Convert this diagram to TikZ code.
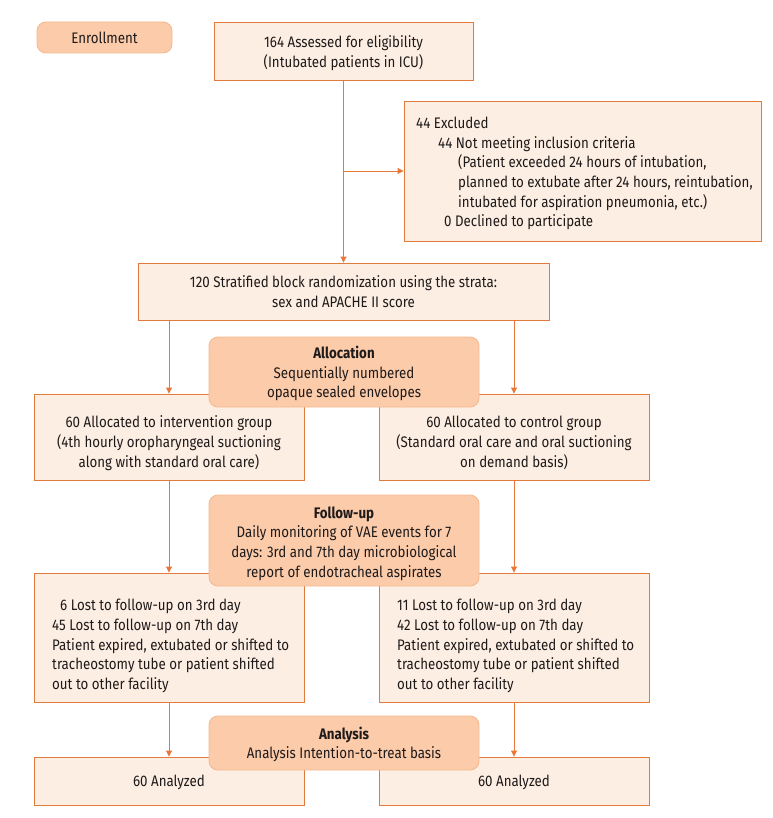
\documentclass[tikz,border=0pt]{standalone}
\usepackage{fontspec}
\setmainfont{Fira Sans}[FakeStretch=0.87]
\usetikzlibrary{arrows.meta}
\definecolor{boxfill}{HTML}{FDEEE3}
\definecolor{boxdraw}{HTML}{E07B3C}
\definecolor{rfill}{HTML}{FBCBAA}
\definecolor{rdraw}{HTML}{F7B990}
\definecolor{arr}{HTML}{E8773A}
\definecolor{txt}{HTML}{1E1A1A}
\begin{document}
\begin{tikzpicture}[x=1pt,y=-1pt,
  every node/.style={font=\fontsize{15.3}{19.7}\selectfont, text=txt},
  box/.style={draw=boxdraw, fill=boxfill, line width=0.9pt, inner sep=0pt, align=center},
  stage/.style={draw=rdraw, fill=rfill, rounded corners=9pt, line width=0.9pt, inner sep=0pt, align=center},
  plain/.style={inner sep=0pt, align=left, anchor=west},
  ctext/.style={inner sep=0pt, align=center},
  conn/.style={draw=arr, line width=0.9pt, -{Triangle[width=6pt,length=6pt]}}]
\useasboundingbox (0,0) rectangle (772,818);

\node[stage, minimum width=135pt, minimum height=31pt] (enr) at (104.5,37.5) {Enrollment};
\node[box, minimum width=259pt, minimum height=58pt] (assess) at (343.5,51) {};
\node[ctext] (assesstext) at (343.5,53) {164 Assessed for eligibility\\(Intubated patients in ICU)};
\node[box, minimum width=357pt, minimum height=140pt] (excl) at (582.5,171) {};
\node[plain] (excltext) at (416,173.5) {44 Excluded\\
\hspace*{22pt}44 Not meeting inclusion criteria\\
\hspace*{42pt}(Patient exceeded 24 hours of intubation,\\
\hspace*{42pt}planned to extubate after 24 hours, reintubation,\\
\hspace*{42pt}intubated for aspiration pneumonia, etc.)\\
\hspace*{28pt}0 Declined to participate};

\node[box, minimum width=411pt, minimum height=57pt] (rand) at (343.5,291.5) {120 Stratified block randomization using the strata:\\sex and APACHE II score};

\node[box, minimum width=270pt, minimum height=86pt] (allocL) at (169,437) {};
\node[box, minimum width=270pt, minimum height=86pt] (allocR) at (514,437) {};
\node[ctext] (allocLtext) at (169,443) {60 Allocated to intervention group\\(4th hourly oropharyngeal suctioning\\along with standard oral care)};
\node[ctext] (allocRtext) at (514,443) {60 Allocated to control group\\(Standard oral care and oral suctioning\\on demand basis)};

\node[box, minimum width=270pt, minimum height=129pt] (lostL) at (169,637.5) {};
\node[box, minimum width=270pt, minimum height=129pt] (lostR) at (514,637.5) {};
\node[plain] (lostLtext) at (52,646) {\hspace*{8pt}6 Lost to follow-up on 3rd day\\
45 Lost to follow-up on 7th day\\
Patient expired, extubated or shifted to\\
tracheostomy tube or patient shifted\\
out to other facility};
\node[plain] (lostRtext) at (397,646) {11 Lost to follow-up on 3rd day\\
42 Lost to follow-up on 7th day\\
Patient expired, extubated or shifted to\\
tracheostomy tube or patient shifted\\
out to other facility};

\node[box, minimum width=270pt, minimum height=48pt] (anaL) at (169,781) {};
\node[box, minimum width=270pt, minimum height=48pt] (anaR) at (514,781) {};
\node[ctext] (anaLtext) at (169,782.5) {60 Analyzed};
\node[ctext] (anaRtext) at (514,782.5) {60 Analyzed};

\draw[conn] (assess.south) -- (rand.north);
\draw[conn] (assess.south |- excl.west) -- (excl.west);
\draw[conn] (rand.south -| allocL.north) -- (allocL.north);
\draw[conn] (rand.south -| allocR.north) -- (allocR.north);
\draw[conn] (allocL.south) -- (lostL.north);
\draw[conn] (allocR.south) -- (lostR.north);
\draw[conn] (lostL.south) -- (anaL.north);
\draw[conn] (lostR.south) -- (anaR.north);

\node[stage, minimum width=270pt, minimum height=70pt] (alloc) at (344,372) {};
\node[ctext] (alloctext) at (344,373.5) {\textbf{Allocation}\\Sequentially numbered\\opaque sealed envelopes};
\node[stage, minimum width=270pt, minimum height=91pt] (follow) at (344,540.5) {};
\node[ctext] (followtext) at (344,543.5) {\textbf{Follow-up}\\Daily monitoring of VAE events for 7\\days: 3rd and 7th day microbiological\\report of endotracheal aspirates};
\node[stage, minimum width=270pt, minimum height=54pt] (analysis) at (344,743) {};
\node[ctext] (analysistext) at (344,744.5) {\textbf{Analysis}\\Analysis Intention-to-treat basis};
\end{tikzpicture}
\end{document}
